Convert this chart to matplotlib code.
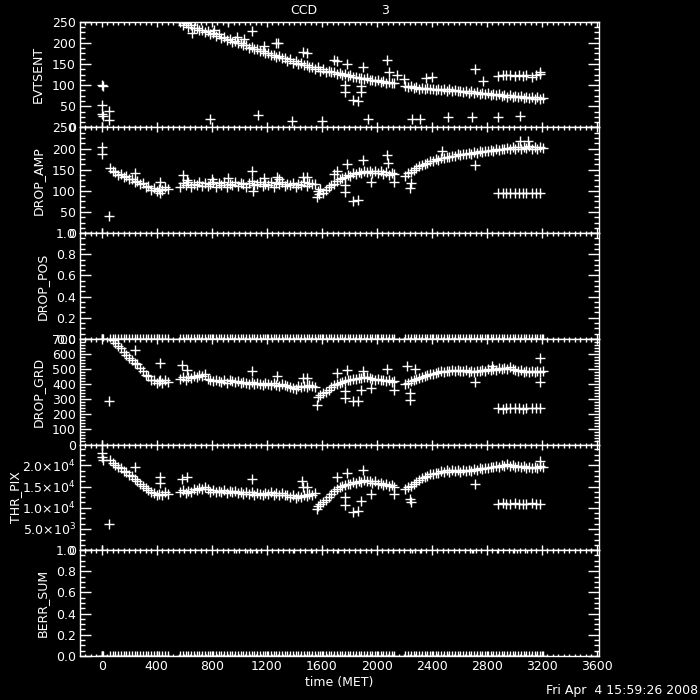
import matplotlib
matplotlib.use('Agg')
import matplotlib.pyplot as plt
from matplotlib.ticker import MultipleLocator, AutoMinorLocator, FuncFormatter
import numpy as np

# time (MET) of the dense band of samples
t_band = [60, 80, 100, 120, 140, 160, 180, 200, 220, 240, 260, 280, 300, 320, 340, 360,
          380, 400, 420, 440, 460, 480,
          570, 590, 610, 630, 650, 670, 690, 710, 730, 750,
          770, 790, 810, 830, 850, 870, 890, 910, 930, 950,
          970, 990, 1010, 1030, 1050, 1070, 1090, 1110, 1130, 1150,
          1170, 1190, 1210, 1230, 1250, 1270, 1290, 1310, 1330, 1350,
          1370, 1390, 1410, 1430, 1450, 1470, 1490, 1510, 1530, 1550,
          1570, 1590, 1610, 1630, 1650, 1670, 1690, 1710, 1730, 1750,
          1770, 1790, 1810, 1830, 1850, 1870, 1890, 1910, 1930, 1950,
          1970, 1990, 2010, 2030, 2050, 2070, 2090, 2110, 2130,
          2210, 2230, 2250, 2270, 2290, 2310, 2330, 2350, 2370, 2390,
          2410, 2430, 2450, 2470, 2490, 2510, 2530, 2550, 2570, 2590,
          2610, 2630, 2650, 2670, 2690, 2710, 2730, 2750, 2770, 2790,
          2810, 2830, 2850, 2870, 2890, 2910, 2930, 2950, 2970, 2990,
          3010, 3030, 3050, 3070, 3090, 3110, 3130, 3150, 3170, 3190,
          3210]

evtsent = [400, 393, 386, 378, 371, 364, 357, 350, 343, 336, 330, 323, 317, 311, 305, 300,
           295, 290, 285, 281, 277, 273,
           250, 243, 247, 238, 242, 235, 236, 230, 231, 225,
           227, 221, 223, 215, 220, 212, 213, 207, 208, 203,
           204, 199, 199, 194, 196, 187, 190, 185, 186, 180,
           181, 176, 177, 171, 172, 167, 168, 163, 164, 157,
           162, 153, 156, 151, 152, 147, 148, 143, 144, 138,
           142, 134, 139, 131, 134, 130, 131, 127, 128, 124,
           126, 121, 123, 119, 120, 116, 118, 114, 116, 112,
           113, 110, 111, 108, 109, 106, 107, 104, 105,
           99, 96, 98, 94, 96, 92, 94, 91, 93, 90,
           92, 89, 91, 88, 91, 87, 90, 86, 88, 85,
           87, 84, 86, 82, 85, 81, 83, 80, 82, 79,
           81, 77, 80, 76, 78, 75, 77, 73, 76, 72,
           75, 71, 74, 70, 73, 70, 72, 68, 71, 67,
           70]
drop_amp = [155, 147, 144, 138, 140, 133, 135, 127, 129, 121, 124, 116, 118, 110, 112, 103,
            107, 99, 105, 101, 109, 104,
            110, 118, 113, 120, 109, 117, 114, 121, 112, 119,
            111, 116, 122, 110, 118, 113, 120, 109, 117, 114,
            121, 112, 119, 115, 110, 118, 123, 113, 116, 120,
            111, 117, 114, 121, 110, 118, 115, 120, 112, 117,
            113, 119, 110, 116, 114, 120, 112, 118, 115, 117,
            99, 104, 96, 101, 108, 114, 117, 124, 127, 131,
            133, 137, 136, 141, 139, 144, 142, 147, 145, 148,
            143, 147, 141, 146, 140, 145, 138, 143, 139,
            136, 142, 145, 150, 153, 158, 160, 164, 166, 170,
            171, 175, 174, 178, 177, 181, 180, 183, 182, 186,
            184, 188, 186, 190, 188, 192, 190, 194, 192, 195,
            194, 197, 195, 199, 196, 200, 198, 202, 199, 203,
            200, 204, 199, 203, 201, 205, 199, 203, 200, 204,
            201]
drop_grd = [712, 690, 672, 655, 638, 612, 592, 570, 558, 540, 530, 505, 488, 462, 452, 430,
            426, 410, 418, 405, 425, 415,
            432, 448, 428, 445, 438, 452, 447, 462, 455, 465,
            436, 426, 418, 430, 422, 415, 427, 410, 424, 418,
            412, 420, 405, 416, 409, 402, 414, 398, 410, 401,
            395, 408, 399, 392, 404, 396, 390, 401, 393, 387,
            382, 376, 370, 385, 378, 390, 382, 393, 386, 380,
            315, 325, 338, 350, 362, 378, 392, 400, 408, 414,
            420, 428, 425, 436, 432, 443, 438, 449, 445, 440,
            436, 430, 433, 425, 428, 420, 424, 416, 418,
            402, 410, 418, 425, 432, 440, 448, 453, 460, 466,
            470, 476, 479, 485, 481, 488, 485, 492, 488, 496,
            490, 485, 492, 480, 488, 482, 490, 486, 494, 490,
            497, 492, 500, 496, 505, 498, 508, 502, 510, 500,
            495, 488, 492, 482, 490, 480, 488, 478, 486, 480,
            484]
thr_pix = [21300, 20500, 20100, 19600, 19300, 18700, 18400, 17700, 17400, 16800, 16300,
           15700, 15200, 14600, 14200, 13600, 13500, 13000, 13300, 12900, 13600, 13200,
           13700, 14200, 13500, 14000, 13800, 14400, 14100, 14700, 14500, 15000,
           14300, 13800, 14100, 13600, 14000, 13700, 14200, 13500, 13900, 13600,
           14000, 13500, 13800, 13300, 13700, 13200, 13600, 13100, 13500, 13300,
           13000, 13500, 13200, 13600, 13100, 13400, 13000, 13500, 13100, 12900,
           12600, 12900, 12300, 12700, 12500, 13000, 12800, 13300, 13000, 13400,
           10500, 10900, 11300, 11800, 12500, 13200, 13900, 14300, 14800, 15100,
           15400, 15700, 15600, 16000, 15900, 16300, 16100, 16600, 16400, 16200,
           15900, 16200, 15600, 15900, 15300, 15600, 15100, 15400, 15000,
           14300, 14800, 15200, 15700, 16100, 16600, 16900, 17300, 17500, 17900,
           18000, 18300, 18200, 18600, 18400, 18800, 18500, 18900, 18600, 18800,
           18500, 18900, 18600, 18800, 18700, 19100, 18900, 19300, 19100, 19400,
           19300, 19700, 19500, 19900, 19600, 20100, 19800, 20200, 19900, 20000,
           19600, 19900, 19500, 19800, 19400, 19700, 19300, 19600, 19400, 19800,
           19500]

# the separate row of samples near the end
row_t = [2884, 2916, 2945, 2974, 3005, 3037, 3066, 3090, 3127, 3158, 3187]
evt_row = [122, 124, 123, 125, 121, 124, 122, 125, 120, 123, 126]
amp_row = [95, 96, 94, 95, 95, 96, 94, 95, 96, 95, 95]
grd_row = [242, 238, 240, 241, 239, 240, 238, 241, 240, 239, 240]
thr_row = [11000, 11100, 10900, 11000, 11050, 10950, 11000, 10900, 11100, 11000, 11000]

# scattered points
evt_out_t = [0, 8, 3, 5, 10, 0, 55, 55, 788, 1139, 1386, 1604, 654, 921, 1095, 815, 982,
             1036, 1183, 1265, 1280, 1466, 1490, 1692, 1710, 1786, 1903, 2073, 2090, 1770,
             1770, 1885, 1885, 1830, 1866, 1939, 2255, 2315, 2521, 2691, 2884, 3042, 2715,
             2145, 2200, 2360, 2400, 2775, 3190]
evt_out_v = [100, 98, 52, 32, 28, 2, 38, 18, 20, 30, 16, 16, 224, 250, 228, 230, 213,
             210, 192, 200, 199, 178, 177, 159, 158, 151, 143, 159, 131, 100,
             84, 97, 83, 65, 62, 20, 21, 21, 24, 24, 24, 28, 137,
             123, 115, 117, 119, 110, 131]
amp_out_t = [0, 5, 0, 55, 242, 424, 424, 594, 618, 800, 921, 1095, 1102, 1183, 1273, 1290,
             1466, 1490, 1564, 1580, 1692, 1709, 1786, 1903, 2073, 2085, 1770, 1770, 1830,
             1866, 1958, 2130, 2242, 2250, 2473, 2715, 3042, 3100]
amp_out_v = [203, 186, 0, 40, 143, 120, 96, 138, 125, 129, 131, 146, 100, 130, 132, 128,
             133, 133, 85, 92, 140, 147, 164, 172, 184, 165, 113, 97, 77,
             79, 120, 120, 106, 118, 194, 160, 217, 219]
grd_out_t = [0, 8, 0, 55, 242, 424, 424, 582, 618, 1095, 1273, 1466, 1490, 1564, 1709, 1786,
             1903, 2073, 2218, 2278, 1770, 1770, 1830, 1866, 1885, 1958, 2130, 2242, 2242,
             2715, 2840, 3188, 3188]
grd_out_v = [740, 720, 0, 289, 629, 540, 430, 529, 496, 484, 451, 440, 440, 262, 473, 496,
             484, 500, 517, 500, 351, 307, 285, 290, 362, 373, 362, 340, 296,
             417, 520, 573, 417]
thr_out_t = [0, 3, 5, 10, 0, 55, 242, 424, 424, 582, 618, 1095, 1460, 1466, 1490, 1564, 1709,
             1786, 1903, 1770, 1770, 1830, 1866, 1885, 1958, 2130, 2242, 2250, 2715, 3188]
thr_out_v = [23000, 24800, 22000, 21300, 0, 6100, 19500, 17300, 15900, 16800, 17300, 16800,
             16200, 14900, 14900, 9800, 17300, 18300, 18800, 12500, 10600, 9030, 9200,
             11600, 13300, 13300, 12100, 11400, 15600, 20900]

# DROP_POS and BERR_SUM are zero everywhere
zero_t = [0, 5, 10] + t_band
drop_pos = [0.0] * len(zero_t)
berr_sum = [0.0] * len(zero_t)
berr_hi_t = [980, 1055, 1095, 1127, 1393, 1527, 1709, 1878, 2120, 2255, 2315,
             2691, 2703, 2873, 2993, 3018, 3091]
berr_hi_v = [1.02] * len(berr_hi_t)


def thr_fmt(v, pos):
    if v <= 0:
        return '0'
    e = int(np.floor(np.log10(v)))
    return r'$%.1f{\times}10^{%d}$' % (v / 10 ** e, e)


panels = [
    ('EVTSENT', [(t_band, evtsent), (row_t, evt_row), (evt_out_t, evt_out_v)], (0, 250), 50, None, 5),
    ('DROP_AMP', [(t_band, drop_amp), (row_t, amp_row), (amp_out_t, amp_out_v)], (0, 250), 50, None, 5),
    ('DROP_POS', [(zero_t, drop_pos)], (0, 1), 0.2, '%.1f', 5),
    ('DROP_GRD', [(t_band, drop_grd), (row_t, grd_row), (grd_out_t, grd_out_v)], (0, 700), 100, None, 5),
    ('THR_PIX', [(t_band, thr_pix), (row_t, thr_row), (thr_out_t, thr_out_v)], (0, 24900), 5000, 'thr', 0),
    ('BERR_SUM', [(zero_t, berr_sum), (berr_hi_t, berr_hi_v)], (0, 1), 0.2, '%.1f', 5),
]

fig = plt.figure(figsize=(7, 7), dpi=100, facecolor='black')
W = 700.0
left, right, top, ph = 80, 599, 21.7, 105.7

for i, (name, sets, ylim, step, fmt, lpad) in enumerate(panels):
    y0 = top + (i + 1) * ph
    ax = fig.add_axes([left / W, 1 - y0 / W, (right - left) / W, ph / W])
    ax.set_facecolor('black')
    for xs, ys in sets:
        ax.plot(xs, ys, '+', color='white', ms=7, mew=1.0, ls='none')
    ax.set_xlim(-158, 3618)
    ax.set_ylim(*ylim)
    ax.xaxis.set_major_locator(MultipleLocator(400))
    ax.xaxis.set_minor_locator(MultipleLocator(40))
    ax.yaxis.set_major_locator(MultipleLocator(step))
    ax.yaxis.set_minor_locator(AutoMinorLocator(5 if name == 'DROP_GRD' else 4))
    if fmt == 'thr':
        ax.yaxis.set_major_formatter(FuncFormatter(thr_fmt))
    elif fmt:
        ax.yaxis.set_major_formatter(FuncFormatter(lambda v, p, f=fmt: f % v))
    for s in ax.spines.values():
        s.set_color('white')
        s.set_linewidth(1)
    ax.tick_params(which='both', direction='in', colors='white', top=True, right=True,
                   labelsize=9, pad=3, width=1)
    ax.tick_params(axis='y', which='major', length=8)
    ax.tick_params(axis='y', which='minor', length=3.6)
    ax.tick_params(axis='x', which='major', length=3.5)
    ax.tick_params(axis='x', which='minor', length=1.8)
    ax.set_ylabel(name, color='white', fontsize=9, labelpad=lpad)
    if i < len(panels) - 1:
        ax.tick_params(axis='x', labelbottom=False)
    else:
        ax.set_xlabel('time (MET)', color='white', fontsize=9, labelpad=2)

fig.text(304 / W, 1 - 11 / W, 'CCD', color='white', fontsize=9, ha='center', va='center')
fig.text(385 / W, 1 - 11 / W, '3', color='white', fontsize=9, ha='center', va='center')
fig.text(0.998, 0.004, 'Fri Apr  4 15:59:26 2008', color='white', fontsize=9,
         ha='right', va='bottom')

fig.savefig('out.png', dpi=100, facecolor='black')
